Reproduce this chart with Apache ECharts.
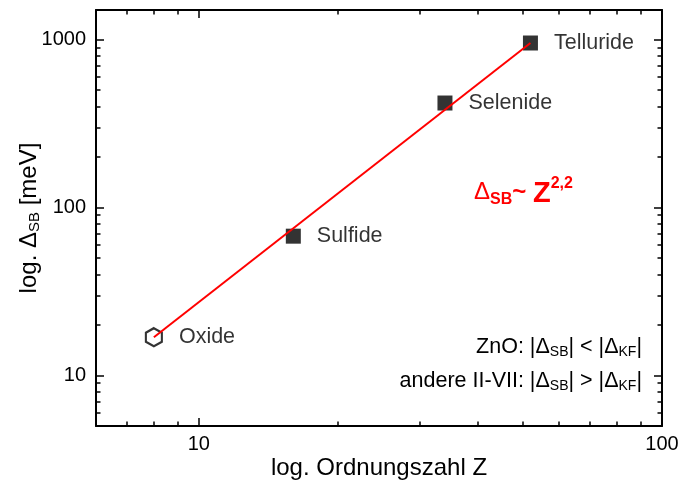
<!DOCTYPE html>
<html><head><meta charset="utf-8">
<script src="https://cdn.jsdelivr.net/npm/echarts@6/dist/echarts.min.js"></script>
<style>html,body{margin:0;padding:0;background:#fff}#c{width:686px;height:484px}</style>
</head><body><div id="c"></div>
<script>
// ---- data ----
const materials = ['Oxide', 'Sulfide', 'Selenide', 'Telluride'];
const ordnungszahl = [8, 16, 34, 52];
const deltaSB = [16.9, 67.5, 419, 954];
const fitZ = [8, 52];
const fitDelta = [16.9, 954];
const xMajorTicks = [10, 100];
const xMinorTicks = [7, 8, 9, 20, 30, 40, 50, 60, 70, 80, 90];
const yMajorTicks = [10, 100, 1000];
const yMinorTicks = [6, 7, 8, 9, 20, 30, 40, 50, 60, 70, 80, 90, 200, 300, 400, 500, 600, 700, 800, 900];

// ---- chart ----
const FONT = 'Liberation Sans, Arial, sans-serif';
const X_MIN = 6, X_MAX = 100, Y_MIN = 5, Y_MAX = 1500;
const hexagon = 'path://M50,0 L93.3,25 L93.3,75 L50,100 L6.7,75 L6.7,25 Z';

function mkAxis(kind, position, ticks, len, opts) {
  const a = {
    type: 'log', logBase: 10, position: position,
    min: kind === 'x' ? X_MIN : Y_MIN, max: kind === 'x' ? X_MAX : Y_MAX,
    axisLine: { show: !!opts.line, lineStyle: { color: '#000', width: 2 } },
    axisTick: { show: true, inside: true, length: len, customValues: ticks, lineStyle: { color: '#000', width: 1.5 } },
    axisLabel: { show: false },
    splitLine: { show: false }, minorTick: { show: false }, minorSplitLine: { show: false }
  };
  if (opts.labels) {
    a.axisLabel = { show: true, customValues: ticks, color: '#000', fontSize: 20, fontFamily: FONT,
      margin: kind === 'x' ? 8 : 10, formatter: v => String(v) };
  }
  return Object.assign(a, opts.extra || {});
}

const xAxes = [
  mkAxis('x', 'bottom', xMajorTicks, 8, { line: true, labels: true, extra: {
    name: 'log. Ordnungszahl Z', nameLocation: 'middle', nameGap: 30, nameMoveOverlap: false,
    nameTextStyle: { color: '#000', fontSize: 24, fontFamily: FONT } } }),
  mkAxis('x', 'bottom', xMinorTicks, 4.5, {}),
  mkAxis('x', 'top', xMajorTicks, 8, { line: true }),
  mkAxis('x', 'top', xMinorTicks, 4.5, {})
];
const yAxes = [
  mkAxis('y', 'left', yMajorTicks, 8, { line: true, labels: true, extra: {
    name: 'log. Δ{s|SB} [meV]', nameLocation: 'middle', nameGap: 54, nameMoveOverlap: false,
    nameTextStyle: { color: '#000', fontSize: 24, fontFamily: FONT,
      rich: { s: { fontSize: 15, fontFamily: FONT, color: '#000', padding: [11, 0, 0, 0] } } } } }),
  mkAxis('y', 'left', yMinorTicks, 4.5, {}),
  mkAxis('y', 'right', yMajorTicks, 8, { line: true }),
  mkAxis('y', 'right', yMinorTicks, 4.5, {})
];

const pointData = materials.map((m, i) => {
  const item = { name: m, value: [ordnungszahl[i], deltaSB[i]] };
  if (i === 0) {
    item.symbol = hexagon;
    item.symbolSize = [16, 18];
    item.itemStyle = { color: '#fff', borderColor: '#000', borderWidth: 2.2 };
  }
  return item;
});

const option = {
  animation: false,
  backgroundColor: '#fff',
  grid: { left: 96, right: 24, top: 10, bottom: 58, containLabel: false, outerBoundsMode: 'none' },
  xAxis: xAxes,
  yAxis: yAxes,
  series: [
    {
      type: 'scatter', xAxisIndex: 0, yAxisIndex: 0, z: 2,
      symbol: 'rect', symbolSize: 15,
      itemStyle: { color: '#000' },
      label: { show: true, position: 'right', distance: 16, formatter: p => p.name,
        color: '#000', fontSize: 21.5, fontFamily: FONT },
      data: pointData
    },
    {
      type: 'line', xAxisIndex: 0, yAxisIndex: 0, z: 3,
      symbol: 'none', lineStyle: { color: '#ff0000', width: 2 },
      data: fitZ.map((z, i) => [z, fitDelta[i]])
    }
  ],
  graphic: [
    { type: 'text', x: 474, y: 192, z: 10, style: {
      text: '{d|Δ}{s|SB}{t|~ }{z|Z}{p|2,2}', fill: '#ff0000', align: 'left', verticalAlign: 'middle',
      fontFamily: FONT, fontSize: 24,
      rich: {
        d: { fontSize: 24, fontFamily: FONT, fill: '#ff0000' },
        s: { fontSize: 16, fontWeight: 'bold', fontFamily: FONT, fill: '#ff0000', padding: [16, 0, 0, 0] },
        t: { fontSize: 24, fontWeight: 'bold', fontFamily: FONT, fill: '#ff0000' },
        z: { fontSize: 29, fontWeight: 'bold', fontFamily: FONT, fill: '#ff0000', padding: [4, 0, 0, 0] },
        p: { fontSize: 16, fontWeight: 'bold', fontFamily: FONT, fill: '#ff0000', padding: [0, 0, 16, 0] }
      } } },
    { type: 'text', x: 642, y: 347, z: 10, style: {
      text: 'ZnO: |Δ{s|SB}| < |Δ{s|KF}|', fill: '#000', align: 'right', verticalAlign: 'middle',
      fontFamily: FONT, fontSize: 21.5,
      rich: { s: { fontSize: 14, fontFamily: FONT, fill: '#000', padding: [11, 0, 0, 0] } } } },
    { type: 'text', x: 642, y: 381, z: 10, style: {
      text: 'andere II-VII: |Δ{s|SB}| > |Δ{s|KF}|', fill: '#000', align: 'right', verticalAlign: 'middle',
      fontFamily: FONT, fontSize: 21.5,
      rich: { s: { fontSize: 14, fontFamily: FONT, fill: '#000', padding: [11, 0, 0, 0] } } } }
  ]
};

const chart = echarts.init(document.getElementById('c'), null, { renderer: 'canvas' });
chart.setOption(option);
</script>
</body></html>
